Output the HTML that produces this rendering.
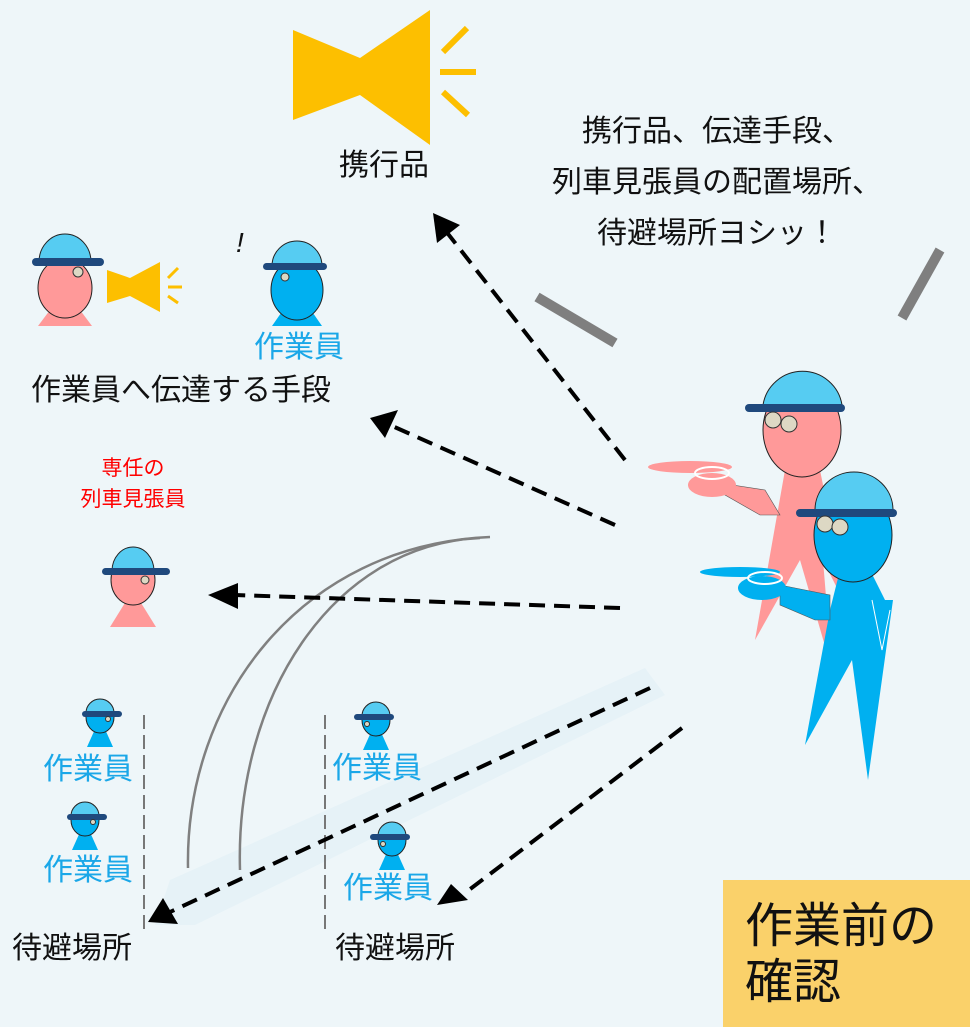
<!DOCTYPE html>
<html><head><meta charset="utf-8"><style>
html,body{margin:0;padding:0;background:#eef6f9}
svg{display:block}
text{font-family:"Liberation Sans","Noto Sans CJK JP",sans-serif}
</style></head><body>
<svg width="970" height="1027" viewBox="0 0 970 1027" xmlns="http://www.w3.org/2000/svg">
<rect width="970" height="1027" fill="#eef6f9"/>
<!-- big megaphone -->
<polygon points="293,30 360,58 430,10 430,145 360,95 293,120" fill="#fdbf00"/>
<g stroke="#fdbf00" stroke-width="6">
<line x1="443" y1="52" x2="467" y2="28"/><line x1="440" y1="72" x2="476" y2="72"/><line x1="443" y1="92" x2="468" y2="115"/>
</g>
<text x="384" y="175" font-size="30" text-anchor="middle" fill="#111">携行品</text>
<g font-size="30" fill="#111" text-anchor="middle">
<text x="717" y="141">携行品、伝達手段、</text>
<text x="717" y="192">列車見張員の配置場所、</text>
<text x="717" y="243">待避場所ヨシッ！</text>
</g>
<!-- gray bars -->
<line x1="537" y1="297" x2="615" y2="343" stroke="#7f7f7f" stroke-width="10"/>
<line x1="940" y1="250" x2="902" y2="318" stroke="#7f7f7f" stroke-width="10"/>

<!-- faint wide band -->
<polygon points="645,668 665,695 195,925 155,925 170,880" fill="#e6f2f7"/>

<!-- top-left pink person -->
<polygon points="65,290 38,326 92,326" fill="#ff9999"/>
<ellipse cx="65" cy="288" rx="27" ry="30" fill="#ff9999" stroke="#222" stroke-width="1"/>
<path d="M39,262 A26,28 0 0 1 91,262 Z" fill="#56ccf2" stroke="#222"/>
<rect x="32" y="258" width="72" height="8" rx="4" fill="#1f497d"/>
<circle cx="78" cy="272" r="5" fill="#ddd8c4" stroke="#333"/>
<!-- small megaphone -->
<polygon points="107,270 130,278 160,262 160,312 130,296 107,303" fill="#fdbf00"/>
<g stroke="#fdbf00" stroke-width="3"><line x1="168" y1="278" x2="178" y2="268"/><line x1="168" y1="287" x2="182" y2="287"/><line x1="168" y1="296" x2="178" y2="303"/></g>
<text x="236" y="252" font-size="28" font-style="italic" fill="#111">!</text>
<!-- top blue person -->
<polygon points="297,290 272,326 322,326" fill="#00b0f0"/>
<ellipse cx="297" cy="290" rx="26" ry="30" fill="#00b0f0" stroke="#222"/>
<path d="M272,266 A25,25 0 0 1 322,266 Z" fill="#56ccf2" stroke="#222"/>
<rect x="263" y="263" width="64" height="7" rx="3.5" fill="#1f497d"/>
<circle cx="285" cy="277" r="4" fill="#ddd8c4" stroke="#333"/>
<text x="299" y="357" font-size="30" text-anchor="middle" fill="#1aa7e8">作業員</text>
<text x="181" y="400" font-size="30" text-anchor="middle" fill="#111">作業員へ伝達する手段</text>

<text x="133" y="475" font-size="21" text-anchor="middle" fill="#f00">専任の</text>
<text x="133" y="506" font-size="21" text-anchor="middle" fill="#f00">列車見張員</text>
<!-- red lookout -->
<polygon points="133,590 110,627 156,627" fill="#ff9999"/>
<ellipse cx="133" cy="580" rx="22" ry="25" fill="#ff9999" stroke="#222"/>
<path d="M112,571 A21,24 0 0 1 154,571 Z" fill="#56ccf2" stroke="#222"/>
<rect x="102" y="568" width="68" height="7" rx="3.5" fill="#1f497d"/>
<circle cx="145" cy="580" r="4" fill="#ddd8c4" stroke="#333"/>

<!-- small workers -->
<g>
<polygon points="100,718 87,747 113,747" fill="#00b0f0"/>
<ellipse cx="100" cy="717" rx="14" ry="16" fill="#00b0f0" stroke="#222"/>
<path d="M86,713 A14,14 0 0 1 114,713 Z" fill="#56ccf2" stroke="#222"/>
<rect x="82" y="711" width="40" height="6" rx="3" fill="#1f497d"/>
<circle cx="108" cy="719" r="2.5" fill="#ddd8c4" stroke="#333"/>
</g>
<g transform="translate(-15,103)">
<polygon points="100,718 87,747 113,747" fill="#00b0f0"/>
<ellipse cx="100" cy="717" rx="14" ry="16" fill="#00b0f0" stroke="#222"/>
<path d="M86,713 A14,14 0 0 1 114,713 Z" fill="#56ccf2" stroke="#222"/>
<rect x="82" y="711" width="40" height="6" rx="3" fill="#1f497d"/>
<circle cx="108" cy="719" r="2.5" fill="#ddd8c4" stroke="#333"/>
</g>
<g transform="translate(276,3)">
<polygon points="100,718 87,747 113,747" fill="#00b0f0"/>
<ellipse cx="100" cy="717" rx="14" ry="16" fill="#00b0f0" stroke="#222"/>
<path d="M86,713 A14,14 0 0 1 114,713 Z" fill="#56ccf2" stroke="#222"/>
<rect x="78" y="711" width="40" height="6" rx="3" fill="#1f497d"/>
<circle cx="91" cy="721" r="2.5" fill="#ddd8c4" stroke="#333"/>
</g>
<g transform="translate(292,123)">
<polygon points="100,718 87,747 113,747" fill="#00b0f0"/>
<ellipse cx="100" cy="717" rx="14" ry="16" fill="#00b0f0" stroke="#222"/>
<path d="M86,713 A14,14 0 0 1 114,713 Z" fill="#56ccf2" stroke="#222"/>
<rect x="78" y="711" width="40" height="6" rx="3" fill="#1f497d"/>
<circle cx="91" cy="721" r="2.5" fill="#ddd8c4" stroke="#333"/>
</g>
<g font-size="30" fill="#1aa7e8" text-anchor="middle">
<text x="88" y="779">作業員</text>
<text x="88" y="880">作業員</text>
<text x="377" y="778">作業員</text>
<text x="388" y="898">作業員</text>
</g>
<g stroke="#777" stroke-width="2" stroke-dasharray="14,6">
<line x1="144" y1="715" x2="144" y2="935"/>
<line x1="325" y1="715" x2="325" y2="935"/>
</g>
<text x="72" y="958" font-size="30" text-anchor="middle" fill="#111">待避場所</text>
<text x="395" y="958" font-size="30" text-anchor="middle" fill="#111">待避場所</text>

<!-- gray curves -->
<path d="M188,868 C185,700 300,545 490,537" fill="none" stroke="#808080" stroke-width="2.5"/>
<path d="M240,870 C235,700 330,545 480,538" fill="none" stroke="#808080" stroke-width="2.5"/>

<!-- dashed arrows -->
<g stroke="#000" stroke-width="4" stroke-dasharray="16,9" fill="none">
<line x1="625" y1="460" x2="445" y2="230"/>
<line x1="615" y1="525" x2="390" y2="425"/>
<line x1="620" y1="608" x2="235" y2="595"/>
<line x1="650" y1="688" x2="170" y2="912"/>
<line x1="682" y1="728" x2="465" y2="893"/>
</g>
<g fill="#000">
<polygon points="433,213 460,225 437,243"/>
<polygon points="370,418 398,410 385,438"/>
<polygon points="208,595 238,583 238,609"/>
<polygon points="148,922 163,898 178,924"/>
<polygon points="437,905 451,884 468,900"/>
</g>

<!-- pink pointing person -->
<polygon points="785,470 820,470 848,610 823,560 832,670 800,560 755,640" fill="#ff9999"/>
<polygon points="700,480 765,490 780,515 760,515 725,495" fill="#ff9999" stroke="#555" stroke-width="0.6"/>
<ellipse cx="690" cy="467" rx="42" ry="6" fill="#ff9999"/>
<ellipse cx="712" cy="485" rx="24" ry="12" fill="#ff9999"/>
<ellipse cx="712" cy="473" rx="17" ry="6" fill="none" stroke="#fff" stroke-width="2"/>
<ellipse cx="802" cy="430" rx="39" ry="47" fill="#ff9999" stroke="#222"/>
<path d="M763,405 A40,40 0 0 1 842,405 Z" fill="#56ccf2" stroke="#222"/>
<rect x="745" y="404" width="100" height="8" rx="4" fill="#1f497d"/>
<circle cx="773" cy="420" r="8" fill="#ddd8c4" stroke="#333"/>
<circle cx="789" cy="424" r="8" fill="#ddd8c4" stroke="#333"/>

<!-- blue pointing person -->
<polygon points="840,570 870,570 885,600 893,600 868,780 852,660 805,745 830,610" fill="#00b0f0"/>
<polyline points="872,600 882,650 890,610" fill="none" stroke="#fff" stroke-width="1"/>
<polygon points="780,585 830,595 830,620 815,620 780,605" fill="#00b0f0" stroke="#555" stroke-width="0.6"/>
<ellipse cx="740" cy="572" rx="40" ry="5" fill="#00b0f0"/>
<ellipse cx="762" cy="588" rx="24" ry="12" fill="#00b0f0"/>
<ellipse cx="765" cy="578" rx="17" ry="6" fill="none" stroke="#fff" stroke-width="2"/>
<ellipse cx="853" cy="535" rx="39" ry="47" fill="#00b0f0" stroke="#222"/>
<path d="M815,510 A39,38 0 0 1 893,510 Z" fill="#56ccf2" stroke="#222"/>
<rect x="796" y="509" width="101" height="8" rx="4" fill="#1f497d"/>
<circle cx="825" cy="524" r="8" fill="#ddd8c4" stroke="#333"/>
<circle cx="840" cy="527" r="8" fill="#ddd8c4" stroke="#333"/>

<!-- label box -->
<rect x="723" y="880" width="247" height="147" fill="#fad16a"/>
<text x="745" y="942" font-size="48" fill="#111">作業前の</text>
<text x="745" y="998" font-size="48" fill="#111">確認</text>
</svg>
</body></html>
